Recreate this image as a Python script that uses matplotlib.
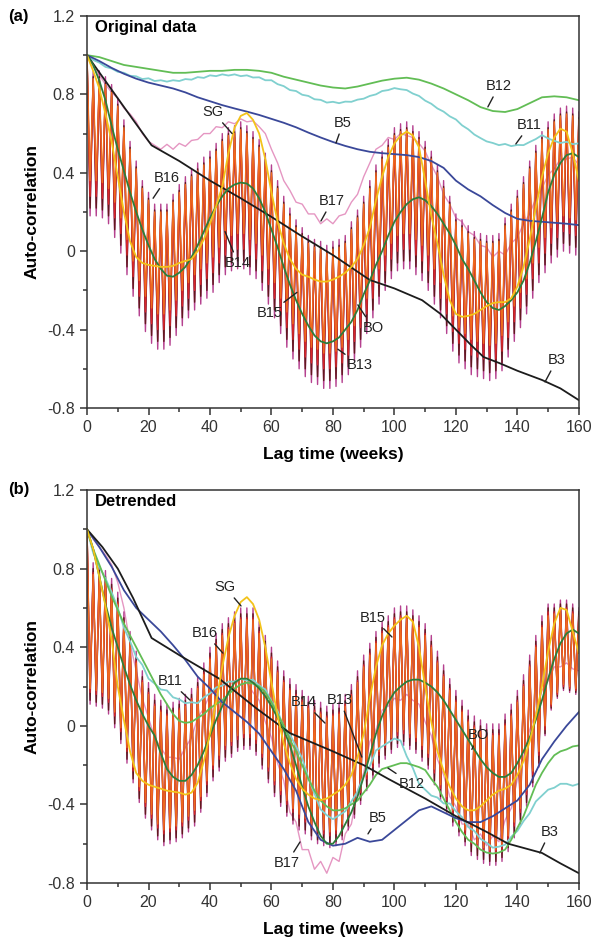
import numpy as np
import matplotlib
matplotlib.use("Agg")
import matplotlib.pyplot as plt
from matplotlib.ticker import MultipleLocator, FuncFormatter

plt.rcParams["font.family"] = ["Liberation Sans", "DejaVu Sans"]
plt.rcParams["axes.unicode_minus"] = False

# lag axes (weeks)
weeks = np.arange(0, 161)
wk2 = np.arange(0, 161, 2)
wk4 = np.arange(0, 161, 4)

# ---------------- (a) original data ----------------
b12_a = [1.00, 0.99, 0.97, 0.95, 0.94, 0.93, 0.92, 0.91, 0.91, 0.915, 0.92, 0.92, 0.925, 0.925,
         0.92, 0.91, 0.89, 0.875, 0.86, 0.845, 0.835, 0.83, 0.84, 0.855, 0.87, 0.88, 0.885, 0.875,
         0.855, 0.83, 0.80, 0.77, 0.735, 0.715, 0.71, 0.725, 0.755, 0.785, 0.79, 0.785, 0.77]
b5_a = [1.0, 0.97, 0.935, 0.905, 0.88, 0.86, 0.845, 0.83, 0.81, 0.785, 0.765, 0.745, 0.728, 0.712,
        0.695, 0.675, 0.655, 0.632, 0.605, 0.58, 0.557, 0.537, 0.52, 0.507, 0.5, 0.495, 0.49, 0.48,
        0.46, 0.425, 0.36, 0.315, 0.28, 0.235, 0.195, 0.165, 0.155, 0.15, 0.145, 0.14, 0.133]
b11_a = [1.0, 0.975, 0.962, 0.94, 0.932, 0.915, 0.91, 0.895, 0.892, 0.878, 0.882, 0.868, 0.872,
         0.865, 0.872, 0.868, 0.878, 0.875, 0.888, 0.884, 0.897, 0.893, 0.902, 0.896, 0.902, 0.893,
         0.897, 0.886, 0.887, 0.872, 0.872, 0.852, 0.842, 0.822, 0.817, 0.798, 0.792, 0.775, 0.772,
         0.758, 0.762, 0.755, 0.763, 0.762, 0.773, 0.778, 0.792, 0.8, 0.817, 0.822, 0.832, 0.826,
         0.822, 0.804, 0.792, 0.768, 0.752, 0.728, 0.712, 0.688, 0.672, 0.642, 0.622, 0.595, 0.577,
         0.56, 0.552, 0.541, 0.547, 0.536, 0.542, 0.541, 0.557, 0.572, 0.592, 0.575, 0.563, 0.552,
         0.558, 0.546, 0.55]
b17_a = [1.0, 0.94, 0.9, 0.85, 0.81, 0.78, 0.73, 0.7, 0.66, 0.6, 0.56, 0.54, 0.52, 0.545, 0.52,
         0.55, 0.535, 0.565, 0.57, 0.6, 0.6, 0.635, 0.63, 0.66, 0.65, 0.675, 0.66, 0.665, 0.635, 0.6,
         0.52, 0.45, 0.36, 0.31, 0.25, 0.24, 0.19, 0.19, 0.14, 0.165, 0.14, 0.18, 0.19, 0.25, 0.29,
         0.38, 0.45, 0.52, 0.54, 0.58, 0.57, 0.6, 0.59, 0.58, 0.55, 0.51, 0.44, 0.38, 0.29, 0.24,
         0.17, 0.15, 0.1, 0.08, 0.03, 0.02, -0.03, 0.0, -0.02, 0.04, 0.07, 0.14, 0.19, 0.27, 0.32,
         0.39, 0.42, 0.47, 0.47, 0.48, 0.44]
b3_a_wk = [0, 5, 10, 15, 21, 30, 40, 50, 60, 69, 80, 92, 100, 109, 115, 120, 125, 129, 134, 140,
           148, 154, 160]
b3_a = [1.0, 0.89, 0.78, 0.67, 0.54, 0.46, 0.36, 0.27, 0.175, 0.085, -0.02, -0.147, -0.19, -0.25,
        -0.32, -0.40, -0.48, -0.54, -0.57, -0.61, -0.657, -0.70, -0.76]
sg_a = [1.0, 0.92, 0.83, 0.7, 0.56, 0.38, 0.2, 0.05, -0.03, -0.06,
        -0.07, -0.075, -0.08, -0.08, -0.075, -0.06, -0.05, -0.04, 0.0, 0.06,
        0.14, 0.23, 0.33, 0.5, 0.63, 0.69, 0.705, 0.67, 0.6, 0.47,
        0.3, 0.15, 0.04, -0.04, -0.09, -0.12, -0.13, -0.145, -0.155, -0.155,
        -0.145, -0.13, -0.11, -0.08, -0.04, 0.03, 0.12, 0.26, 0.38, 0.48,
        0.55, 0.59, 0.61, 0.59, 0.53, 0.36, 0.18, 0.04, -0.12, -0.25,
        -0.32, -0.335, -0.33, -0.32, -0.3, -0.28, -0.265, -0.26, -0.26, -0.24,
        -0.18, -0.08, 0.06, 0.22, 0.38, 0.5, 0.58, 0.625, 0.61, 0.5, 0.36]
bo_a = [1.0, 0.95, 0.87, 0.77, 0.64, 0.52, 0.41, 0.3, 0.2, 0.11,
        0.03, -0.04, -0.09, -0.125, -0.13, -0.11, -0.08, -0.03, 0.03, 0.1,
        0.17, 0.23, 0.28, 0.32, 0.34, 0.35, 0.345, 0.32, 0.27, 0.2,
        0.11, 0.02, -0.08, -0.17, -0.25, -0.32, -0.38, -0.43, -0.46, -0.47,
        -0.46, -0.44, -0.4, -0.36, -0.3, -0.22, -0.15, -0.07, 0.0, 0.08,
        0.15, 0.2, 0.24, 0.265, 0.275, 0.26, 0.23, 0.19, 0.14, 0.09,
        0.03, -0.04, -0.09, -0.15, -0.21, -0.26, -0.29, -0.3, -0.28, -0.25,
        -0.21, -0.15, -0.06, 0.05, 0.17, 0.3, 0.39, 0.45, 0.49, 0.5, 0.48]

# biweekly-alternating series: values at even lags (peaks) and odd lags (troughs)
b14_a_even = [1.0, 0.92, 0.92, 0.89, 0.85, 0.78, 0.67, 0.56, 0.46, 0.36, 0.30,
              0.24, 0.24, 0.24, 0.29, 0.34, 0.38, 0.42, 0.45, 0.48, 0.51,
              0.55, 0.60, 0.63, 0.64, 0.66, 0.64, 0.61, 0.57, 0.50, 0.44,
              0.36, 0.28, 0.22, 0.16, 0.12, 0.08, 0.06, 0.05, 0.03, 0.05,
              0.06, 0.08, 0.15, 0.21, 0.28, 0.36, 0.44, 0.51, 0.57, 0.63,
              0.65, 0.66, 0.64, 0.61, 0.56, 0.51, 0.44, 0.36, 0.28, 0.19,
              0.16, 0.13, 0.10, 0.09, 0.08, 0.08, 0.09, 0.17, 0.24, 0.31,
              0.38, 0.46, 0.54, 0.61, 0.66, 0.70, 0.73, 0.74, 0.73, 0.71]
b14_a_odd = [0.18, 0.18, 0.17, 0.14, 0.07, -0.01, -0.12, -0.23, -0.33, -0.41,
             -0.47, -0.50, -0.50, -0.48, -0.43, -0.38, -0.34, -0.30, -0.27, -0.24,
             -0.21, -0.16, -0.12, -0.10, -0.09, -0.09, -0.12, -0.14, -0.20, -0.27,
             -0.34, -0.42, -0.49, -0.55, -0.60, -0.64, -0.67, -0.68, -0.70, -0.70,
             -0.69, -0.67, -0.63, -0.56, -0.49, -0.42, -0.34, -0.27, -0.20, -0.14,
             -0.10, -0.09, -0.09, -0.12, -0.15, -0.20, -0.27, -0.34, -0.42, -0.51,
             -0.57, -0.60, -0.63, -0.64, -0.65, -0.66, -0.65, -0.61, -0.54, -0.46,
             -0.39, -0.32, -0.24, -0.16, -0.11, -0.06, -0.03, 0.00, -0.01, -0.02]
b13_a_even = [1.0, 0.89, 0.89, 0.86, 0.82, 0.75, 0.64, 0.53, 0.43, 0.33, 0.27,
              0.21, 0.21, 0.21, 0.26, 0.31, 0.35, 0.39, 0.42, 0.45, 0.48,
              0.52, 0.57, 0.60, 0.61, 0.63, 0.61, 0.58, 0.54, 0.47, 0.41,
              0.33, 0.25, 0.19, 0.13, 0.09, 0.05, 0.03, 0.02, 0.00, 0.02,
              0.03, 0.05, 0.12, 0.18, 0.25, 0.33, 0.41, 0.48, 0.54, 0.60,
              0.62, 0.63, 0.61, 0.58, 0.53, 0.48, 0.41, 0.33, 0.25, 0.16,
              0.13, 0.10, 0.07, 0.06, 0.05, 0.05, 0.06, 0.14, 0.21, 0.28,
              0.35, 0.43, 0.51, 0.58, 0.63, 0.67, 0.70, 0.71, 0.70, 0.68]
b13_a_odd = [0.22, 0.22, 0.21, 0.18, 0.11, 0.03, -0.08, -0.19, -0.29, -0.37,
             -0.43, -0.46, -0.46, -0.44, -0.39, -0.34, -0.30, -0.26, -0.23, -0.20,
             -0.17, -0.12, -0.08, -0.06, -0.05, -0.05, -0.08, -0.10, -0.16, -0.23,
             -0.30, -0.38, -0.45, -0.51, -0.56, -0.60, -0.63, -0.64, -0.66, -0.66,
             -0.65, -0.63, -0.59, -0.52, -0.45, -0.38, -0.30, -0.23, -0.16, -0.10,
             -0.06, -0.05, -0.05, -0.08, -0.11, -0.16, -0.23, -0.30, -0.38, -0.47,
             -0.53, -0.56, -0.59, -0.60, -0.61, -0.62, -0.61, -0.57, -0.50, -0.42,
             -0.35, -0.28, -0.20, -0.12, -0.07, -0.02, 0.01, 0.04, 0.03, 0.02]
b15_a_even = [1.0, 0.86, 0.86, 0.83, 0.79, 0.72, 0.61, 0.50, 0.40, 0.30, 0.24,
              0.18, 0.18, 0.18, 0.23, 0.28, 0.32, 0.36, 0.39, 0.42, 0.45,
              0.49, 0.54, 0.57, 0.58, 0.60, 0.58, 0.55, 0.51, 0.44, 0.38,
              0.30, 0.22, 0.16, 0.10, 0.06, 0.02, 0.00, -0.01, -0.03, -0.01,
              0.00, 0.02, 0.09, 0.15, 0.22, 0.30, 0.38, 0.45, 0.51, 0.57,
              0.59, 0.60, 0.58, 0.55, 0.50, 0.45, 0.38, 0.30, 0.22, 0.13,
              0.10, 0.07, 0.04, 0.03, 0.02, 0.02, 0.03, 0.11, 0.18, 0.25,
              0.32, 0.40, 0.48, 0.55, 0.60, 0.64, 0.67, 0.68, 0.67, 0.65]
b15_a_odd = [0.28, 0.28, 0.27, 0.24, 0.17, 0.09, -0.02, -0.13, -0.23, -0.31,
             -0.37, -0.40, -0.40, -0.38, -0.33, -0.28, -0.24, -0.20, -0.17, -0.14,
             -0.11, -0.06, -0.02, 0.00, 0.01, 0.01, -0.02, -0.04, -0.10, -0.17,
             -0.24, -0.32, -0.39, -0.45, -0.50, -0.54, -0.57, -0.58, -0.60, -0.60,
             -0.59, -0.57, -0.53, -0.46, -0.39, -0.32, -0.24, -0.17, -0.10, -0.04,
             0.00, 0.01, 0.01, -0.02, -0.05, -0.10, -0.17, -0.24, -0.32, -0.41,
             -0.47, -0.50, -0.53, -0.54, -0.55, -0.56, -0.55, -0.51, -0.44, -0.36,
             -0.29, -0.22, -0.14, -0.06, -0.01, 0.04, 0.07, 0.10, 0.09, 0.08]
b16_a_even = [1.0, 0.88, 0.88, 0.85, 0.81, 0.74, 0.63, 0.52, 0.42, 0.32, 0.26,
              0.20, 0.20, 0.20, 0.25, 0.30, 0.34, 0.38, 0.41, 0.44, 0.47,
              0.51, 0.56, 0.59, 0.60, 0.62, 0.60, 0.57, 0.53, 0.46, 0.40,
              0.32, 0.24, 0.18, 0.12, 0.08, 0.04, 0.02, 0.01, -0.01, 0.01,
              0.02, 0.04, 0.11, 0.17, 0.24, 0.32, 0.40, 0.47, 0.53, 0.59,
              0.61, 0.62, 0.60, 0.57, 0.52, 0.47, 0.40, 0.32, 0.24, 0.15,
              0.12, 0.09, 0.06, 0.05, 0.04, 0.04, 0.05, 0.13, 0.20, 0.27,
              0.34, 0.42, 0.50, 0.57, 0.62, 0.66, 0.69, 0.70, 0.69, 0.67]
b16_a_odd = [0.36, 0.36, 0.35, 0.32, 0.25, 0.17, 0.06, -0.05, -0.15, -0.23,
             -0.29, -0.32, -0.32, -0.30, -0.25, -0.20, -0.16, -0.12, -0.09, -0.06,
             -0.03, 0.02, 0.06, 0.08, 0.09, 0.09, 0.06, 0.04, -0.02, -0.09,
             -0.16, -0.24, -0.31, -0.37, -0.42, -0.46, -0.49, -0.50, -0.52, -0.52,
             -0.51, -0.49, -0.45, -0.38, -0.31, -0.24, -0.16, -0.09, -0.02, 0.04,
             0.08, 0.09, 0.09, 0.06, 0.03, -0.02, -0.09, -0.16, -0.24, -0.33,
             -0.39, -0.42, -0.45, -0.46, -0.47, -0.48, -0.47, -0.43, -0.36, -0.28,
             -0.21, -0.14, -0.06, 0.02, 0.07, 0.12, 0.15, 0.18, 0.17, 0.16]

# ---------------- (b) detrended ----------------
b12_b = [1.0, 0.9, 0.82, 0.74, 0.66, 0.59, 0.52, 0.46, 0.4, 0.34,
         0.28, 0.22, 0.16, 0.11, 0.06, 0.025, 0.015, 0.02, 0.04, 0.06,
         0.09, 0.11, 0.13, 0.16, 0.19, 0.21, 0.22, 0.215, 0.2, 0.17,
         0.12, 0.06, 0.0, -0.07, -0.13, -0.2, -0.27, -0.33, -0.38, -0.41,
         -0.43, -0.43, -0.42, -0.4, -0.38, -0.34, -0.3, -0.25, -0.22, -0.21,
         -0.2, -0.19, -0.19, -0.2, -0.21, -0.225, -0.27, -0.31, -0.37, -0.43,
         -0.49, -0.54, -0.58, -0.6, -0.63, -0.645, -0.65, -0.645, -0.63, -0.58,
         -0.52, -0.46, -0.38, -0.3, -0.24, -0.19, -0.15, -0.13, -0.12, -0.105, -0.1]
b11_b = [1.0, 0.88, 0.81, 0.75, 0.68, 0.6, 0.5, 0.43, 0.35, 0.31,
         0.24, 0.215, 0.185, 0.18, 0.145, 0.135, 0.115, 0.12, 0.115, 0.145,
         0.165, 0.195, 0.205, 0.225, 0.225, 0.24, 0.23, 0.235, 0.205, 0.185,
         0.125, 0.075, -0.005, -0.045, -0.105, -0.165, -0.265, -0.345, -0.425, -0.455,
         -0.475, -0.455, -0.435, -0.385, -0.335, -0.255, -0.205, -0.125, -0.105, -0.085,
         -0.065, -0.075, -0.155, -0.215, -0.295, -0.325, -0.355, -0.365, -0.395, -0.395,
         -0.435, -0.465, -0.515, -0.535, -0.575, -0.595, -0.62, -0.615, -0.605, -0.565,
         -0.535, -0.485, -0.445, -0.385, -0.355, -0.325, -0.315, -0.295, -0.295, -0.305, -0.295]
b5_b = [1.0, 0.91, 0.81, 0.69, 0.6, 0.54, 0.48, 0.41, 0.335, 0.25, 0.19, 0.12, 0.07, 0.02,
        -0.04, -0.13, -0.22, -0.33, -0.49, -0.58, -0.61, -0.6, -0.57, -0.59, -0.58, -0.53, -0.48,
        -0.43, -0.41, -0.44, -0.47, -0.49, -0.49, -0.46, -0.42, -0.38, -0.3, -0.17, -0.08, 0.0, 0.07]
b17_b = [1.0, 0.95, 0.91, 0.87, 0.82, 0.73, 0.6, 0.42, 0.28, 0.14,
         0.04, -0.06, -0.11, -0.16, -0.16, -0.17, -0.11, -0.06, 0.04, 0.09,
         0.16, 0.17, 0.21, 0.2, 0.23, 0.21, 0.22, 0.17, 0.13, 0.02,
         -0.06, -0.19, -0.28, -0.44, -0.49, -0.63, -0.63, -0.73, -0.69, -0.75,
         -0.67, -0.69, -0.55, -0.5, -0.33, -0.24, -0.08, -0.02, 0.08, 0.1,
         0.14, 0.13, 0.16, 0.13, 0.11, 0.02, -0.05, -0.17, -0.25, -0.36,
         -0.41, -0.5, -0.5, -0.58, -0.55, -0.61, -0.56, -0.59, -0.48, -0.42,
         -0.27, -0.16, -0.02, 0.07, 0.18, 0.23, 0.3, 0.3, 0.32, 0.29, 0.28]
b3_b_wk = [0, 5, 10, 15, 21, 30, 43, 55, 66, 80, 90, 98, 110, 120, 130, 137, 148, 154, 160]
b3_b = [1.0, 0.91, 0.8, 0.65, 0.447, 0.36, 0.24, 0.09, -0.037, -0.13, -0.2, -0.27, -0.37, -0.46,
        -0.54, -0.6, -0.647, -0.7, -0.75]
sg_b = [1.0, 0.9, 0.76, 0.61, 0.44, 0.2, 0.03, -0.13, -0.24, -0.28,
        -0.3, -0.31, -0.32, -0.33, -0.335, -0.34, -0.35, -0.34, -0.29, -0.18,
        -0.04, 0.12, 0.3, 0.45, 0.56, 0.63, 0.655, 0.62, 0.54, 0.4,
        0.22, 0.05, -0.09, -0.19, -0.27, -0.32, -0.35, -0.37, -0.378, -0.37,
        -0.35, -0.33, -0.3, -0.25, -0.16, -0.04, 0.14, 0.3, 0.41, 0.47,
        0.51, 0.54, 0.56, 0.53, 0.4, 0.2, 0.02, -0.13, -0.23, -0.31,
        -0.37, -0.41, -0.43, -0.43, -0.41, -0.38, -0.35, -0.33, -0.32, -0.3,
        -0.25, -0.18, -0.08, 0.05, 0.2, 0.38, 0.52, 0.6, 0.59, 0.48, 0.37]
bo_b = [1.0, 0.9, 0.76, 0.62, 0.5, 0.4, 0.3, 0.21, 0.13, 0.06,
        0.0, -0.05, -0.14, -0.22, -0.26, -0.28, -0.28, -0.25, -0.2, -0.13,
        -0.05, 0.03, 0.1, 0.17, 0.22, 0.24, 0.24, 0.22, 0.19, 0.15,
        0.1, 0.04, -0.02, -0.1, -0.2, -0.31, -0.41, -0.49, -0.56, -0.6,
        -0.6, -0.56, -0.5, -0.44, -0.36, -0.26, -0.15, -0.04, 0.05, 0.12,
        0.17, 0.2, 0.225, 0.235, 0.235, 0.22, 0.2, 0.17, 0.13, 0.08,
        0.03, -0.02, -0.07, -0.12, -0.17, -0.21, -0.24, -0.26, -0.26, -0.24,
        -0.19, -0.13, -0.06, 0.03, 0.13, 0.24, 0.34, 0.42, 0.47, 0.49, 0.47]

b14_b_even = [1.0, 0.83, 0.82, 0.79, 0.75, 0.68, 0.58, 0.48, 0.38, 0.28, 0.22,
              0.16, 0.13, 0.11, 0.12, 0.14, 0.16, 0.19, 0.25, 0.32, 0.40,
              0.47, 0.52, 0.55, 0.58, 0.60, 0.60, 0.60, 0.53, 0.46, 0.40,
              0.33, 0.28, 0.24, 0.21, 0.18, 0.15, 0.13, 0.12, 0.10, 0.11,
              0.12, 0.16, 0.21, 0.28, 0.36, 0.42, 0.48, 0.53, 0.56, 0.60,
              0.61, 0.61, 0.59, 0.56, 0.52, 0.46, 0.38, 0.31, 0.24, 0.18,
              0.13, 0.08, 0.05, 0.03, 0.01, 0.01, 0.01, 0.06, 0.11, 0.18,
              0.26, 0.36, 0.46, 0.56, 0.62, 0.62, 0.64, 0.64, 0.62, 0.60]
b14_b_odd = [0.11, 0.10, 0.09, 0.06, -0.01, -0.09, -0.19, -0.29, -0.39, -0.47,
             -0.53, -0.58, -0.61, -0.60, -0.59, -0.57, -0.54, -0.51, -0.44, -0.36,
             -0.28, -0.23, -0.18, -0.16, -0.13, -0.12, -0.12, -0.15, -0.22, -0.29,
             -0.36, -0.41, -0.46, -0.50, -0.53, -0.55, -0.58, -0.60, -0.61, -0.62,
             -0.61, -0.58, -0.53, -0.47, -0.40, -0.33, -0.27, -0.21, -0.17, -0.14,
             -0.11, -0.10, -0.12, -0.14, -0.18, -0.22, -0.30, -0.38, -0.44, -0.51,
             -0.56, -0.61, -0.66, -0.68, -0.70, -0.71, -0.71, -0.69, -0.64, -0.57,
             -0.50, -0.41, -0.31, -0.21, -0.05, 0.08, 0.14, 0.18, 0.17, 0.16]
b13_b_even = [1.0, 0.80, 0.79, 0.76, 0.72, 0.65, 0.55, 0.45, 0.35, 0.25, 0.19,
              0.13, 0.10, 0.08, 0.09, 0.11, 0.13, 0.16, 0.22, 0.29, 0.37,
              0.44, 0.49, 0.52, 0.55, 0.57, 0.57, 0.57, 0.50, 0.43, 0.37,
              0.30, 0.25, 0.21, 0.18, 0.15, 0.12, 0.10, 0.09, 0.07, 0.08,
              0.09, 0.13, 0.18, 0.25, 0.33, 0.39, 0.45, 0.50, 0.53, 0.57,
              0.58, 0.58, 0.56, 0.53, 0.49, 0.43, 0.35, 0.28, 0.21, 0.15,
              0.10, 0.05, 0.02, 0.00, -0.02, -0.02, -0.02, 0.03, 0.08, 0.15,
              0.23, 0.33, 0.43, 0.53, 0.60, 0.60, 0.62, 0.62, 0.60, 0.58]
b13_b_odd = [0.13, 0.12, 0.11, 0.08, 0.01, -0.07, -0.17, -0.27, -0.37, -0.45,
             -0.51, -0.56, -0.59, -0.58, -0.57, -0.55, -0.52, -0.49, -0.42, -0.34,
             -0.26, -0.21, -0.16, -0.14, -0.11, -0.10, -0.10, -0.13, -0.20, -0.27,
             -0.34, -0.39, -0.44, -0.48, -0.51, -0.53, -0.56, -0.58, -0.59, -0.60,
             -0.59, -0.56, -0.51, -0.45, -0.38, -0.31, -0.25, -0.19, -0.15, -0.12,
             -0.09, -0.08, -0.10, -0.12, -0.16, -0.20, -0.28, -0.36, -0.42, -0.49,
             -0.54, -0.59, -0.64, -0.66, -0.68, -0.69, -0.69, -0.67, -0.62, -0.55,
             -0.48, -0.39, -0.29, -0.19, -0.04, 0.09, 0.15, 0.19, 0.18, 0.17]
b15_b_even = [1.0, 0.78, 0.77, 0.74, 0.70, 0.63, 0.53, 0.43, 0.33, 0.23, 0.17,
              0.11, 0.08, 0.06, 0.07, 0.09, 0.11, 0.14, 0.20, 0.27, 0.35,
              0.42, 0.47, 0.50, 0.53, 0.55, 0.55, 0.55, 0.48, 0.41, 0.35,
              0.28, 0.23, 0.19, 0.16, 0.13, 0.10, 0.08, 0.07, 0.05, 0.06,
              0.07, 0.11, 0.16, 0.23, 0.31, 0.37, 0.43, 0.48, 0.51, 0.55,
              0.56, 0.56, 0.54, 0.51, 0.47, 0.41, 0.33, 0.26, 0.19, 0.13,
              0.08, 0.03, 0.00, -0.02, -0.04, -0.04, -0.04, 0.01, 0.06, 0.13,
              0.21, 0.31, 0.41, 0.51, 0.58, 0.58, 0.60, 0.60, 0.58, 0.56]
b15_b_odd = [0.17, 0.16, 0.15, 0.12, 0.05, -0.03, -0.13, -0.23, -0.33, -0.41,
             -0.47, -0.52, -0.55, -0.54, -0.53, -0.51, -0.48, -0.45, -0.38, -0.30,
             -0.22, -0.17, -0.12, -0.10, -0.07, -0.06, -0.06, -0.09, -0.16, -0.23,
             -0.30, -0.35, -0.40, -0.44, -0.47, -0.49, -0.52, -0.54, -0.55, -0.56,
             -0.55, -0.52, -0.47, -0.41, -0.34, -0.27, -0.21, -0.15, -0.11, -0.08,
             -0.05, -0.04, -0.06, -0.08, -0.12, -0.16, -0.24, -0.32, -0.38, -0.45,
             -0.50, -0.55, -0.60, -0.62, -0.64, -0.65, -0.65, -0.63, -0.58, -0.51,
             -0.44, -0.35, -0.25, -0.15, -0.02, 0.10, 0.16, 0.20, 0.19, 0.18]
b16_b_even = [1.0, 0.77, 0.76, 0.73, 0.69, 0.62, 0.52, 0.42, 0.32, 0.22, 0.16,
              0.10, 0.07, 0.05, 0.06, 0.08, 0.10, 0.13, 0.19, 0.26, 0.34,
              0.41, 0.46, 0.49, 0.52, 0.54, 0.54, 0.54, 0.47, 0.40, 0.34,
              0.27, 0.22, 0.18, 0.15, 0.12, 0.09, 0.07, 0.06, 0.04, 0.05,
              0.06, 0.10, 0.15, 0.22, 0.30, 0.36, 0.42, 0.47, 0.50, 0.54,
              0.55, 0.55, 0.53, 0.50, 0.46, 0.40, 0.32, 0.25, 0.18, 0.12,
              0.07, 0.02, -0.01, -0.03, -0.05, -0.05, -0.05, 0.00, 0.05, 0.12,
              0.20, 0.30, 0.40, 0.50, 0.56, 0.57, 0.59, 0.59, 0.57, 0.55]
b16_b_odd = [0.19, 0.18, 0.17, 0.14, 0.07, -0.01, -0.11, -0.21, -0.31, -0.39,
             -0.45, -0.50, -0.53, -0.52, -0.51, -0.49, -0.46, -0.43, -0.36, -0.28,
             -0.20, -0.15, -0.10, -0.08, -0.05, -0.04, -0.04, -0.07, -0.14, -0.21,
             -0.28, -0.33, -0.38, -0.42, -0.45, -0.47, -0.50, -0.52, -0.53, -0.54,
             -0.53, -0.50, -0.45, -0.39, -0.32, -0.25, -0.19, -0.13, -0.09, -0.06,
             -0.03, -0.02, -0.04, -0.06, -0.10, -0.14, -0.22, -0.30, -0.36, -0.43,
             -0.48, -0.53, -0.58, -0.60, -0.62, -0.63, -0.63, -0.61, -0.56, -0.49,
             -0.42, -0.33, -0.23, -0.13, 0.00, 0.11, 0.17, 0.21, 0.20, 0.19]

colors = {
    "B12": "#62bd55", "B11": "#80d0cf", "B5": "#3a4899", "B3": "#1c1c1c",
    "B17": "#e596c2", "SG": "#f3c31a", "BO": "#2d7d3a",
    "B13": "#611a1d", "B14": "#b5418f", "B15": "#d8262b", "B16": "#ee6a1e",
}


def zigzag(even, odd):
    y = np.empty(len(weeks))
    y[0::2] = even
    y[1::2] = odd
    return y


def style_axes(ax):
    ax.set_xlim(0, 160)
    ax.set_ylim(-0.8, 1.2)
    ax.xaxis.set_major_locator(MultipleLocator(20))
    ax.xaxis.set_minor_locator(MultipleLocator(10))
    ax.yaxis.set_major_locator(MultipleLocator(0.4))
    ax.yaxis.set_minor_locator(MultipleLocator(0.2))
    ax.yaxis.set_major_formatter(FuncFormatter(lambda v, p: "0" if abs(v) < 1e-9 else f"{v:.1f}"))
    ax.tick_params(which="major", direction="out", length=5, width=1.1, labelsize=11.5,
                   colors="#333333")
    ax.tick_params(which="minor", direction="out", length=3, width=1.1, colors="#333333")
    for s in ax.spines.values():
        s.set_linewidth(1.1)
        s.set_color("#333333")
    ax.set_xlabel("Lag time (weeks)", fontsize=12.5, fontweight="bold", labelpad=9)
    ax.set_ylabel("Auto-correlation", fontsize=12.5, fontweight="bold", labelpad=6)


def draw(ax, smooth, zig, notes):
    # pink first, then the alternating series, then the smooth ones on top
    x, y, name = smooth[0]
    ax.plot(x, y, color=colors[name], lw=1.0)
    for even, odd, name in zig:
        ax.plot(weeks, zigzag(even, odd), color=colors[name], lw=1.0)
    for x, y, name in smooth[1:]:
        ax.plot(x, y, color=colors[name], lw=1.3)
    for label, xy, xytext in notes:
        ax.annotate(label, xy=xy, xytext=xytext, ha="center", va="center", fontsize=10.5,
                    color="#222222",
                    arrowprops=dict(arrowstyle="-", color="#222222", lw=1.0,
                                    shrinkA=1, shrinkB=0))
    style_axes(ax)


fig = plt.figure(figsize=(5.94, 9.44), dpi=100)
ax_a = fig.add_axes([0.1465, 0.5678, 0.828, 0.4153])
ax_b = fig.add_axes([0.1465, 0.0646, 0.828, 0.4163])

smooth_a = [(wk2, b17_a, "B17"), (wk2, b11_a, "B11"), (wk4, b12_a, "B12"), (wk4, b5_a, "B5"),
            (b3_a_wk, b3_a, "B3"), (wk2, bo_a, "BO"), (wk2, sg_a, "SG")]
zig_a = [(b14_a_even, b14_a_odd, "B14"), (b13_a_even, b13_a_odd, "B13"),
         (b15_a_even, b15_a_odd, "B15"), (b16_a_even, b16_a_odd, "B16")]
notes_a = [("SG", (47.2, 0.60), (41, 0.71)), ("B16", (21.5, 0.27), (26, 0.375)),
           ("B14", (44.9, 0.10), (49.1, -0.06)), ("B15", (68.3, -0.21), (59.5, -0.315)),
           ("BO", (88.1, -0.274), (93, -0.39)), ("B13", (81.6, -0.50), (88.8, -0.58)),
           ("B3", (149, -0.667), (152.8, -0.555)), ("B12", (130.4, 0.736), (134, 0.843)),
           ("B11", (139.5, 0.547), (144, 0.644)), ("B5", (81, 0.552), (83.3, 0.654)),
           ("B17", (76.1, 0.154), (79.7, 0.256))]
draw(ax_a, smooth_a, zig_a, notes_a)
ax_a.text(2.6, 1.14, "Original data", fontsize=12, fontweight="bold", ha="left", va="center")

smooth_b = [(wk2, b17_b, "B17"), (wk2, b11_b, "B11"), (wk2, b12_b, "B12"), (wk4, b5_b, "B5"),
            (b3_b_wk, b3_b, "B3"), (wk2, bo_b, "BO"), (wk2, sg_b, "SG")]
zig_b = [(b14_b_even, b14_b_odd, "B14"), (b13_b_even, b13_b_odd, "B13"),
         (b15_b_even, b15_b_odd, "B15"), (b16_b_even, b16_b_odd, "B16")]
notes_b = [("SG", (50.1, 0.61), (44.9, 0.706)), ("B16", (44.2, 0.37), (38.4, 0.472)),
           ("B11", (33.5, 0.131), (27, 0.228)), ("B15", (99.2, 0.452), (93, 0.549)),
           ("B14", (77.4, 0.014), (70.6, 0.121)), ("B13", (89.4, -0.159), (82.3, 0.131)),
           ("B12", (97.9, -0.215), (105.7, -0.296)), ("BO", (125.2, -0.12), (127.2, -0.047)),
           ("B5", (91.4, -0.55), (94.6, -0.469)), ("B3", (147.3, -0.647), (150.6, -0.54)),
           ("B17", (69.3, -0.591), (65, -0.698))]
draw(ax_b, smooth_b, zig_b, notes_b)
ax_b.text(2.6, 1.14, "Detrended", fontsize=12, fontweight="bold", ha="left", va="center")

fig.text(0.013, 0.983, "(a)", fontsize=12, fontweight="bold", va="center")
fig.text(0.013, 0.481, "(b)", fontsize=12, fontweight="bold", va="center")

fig.savefig("out.png", dpi=100, facecolor="white")
